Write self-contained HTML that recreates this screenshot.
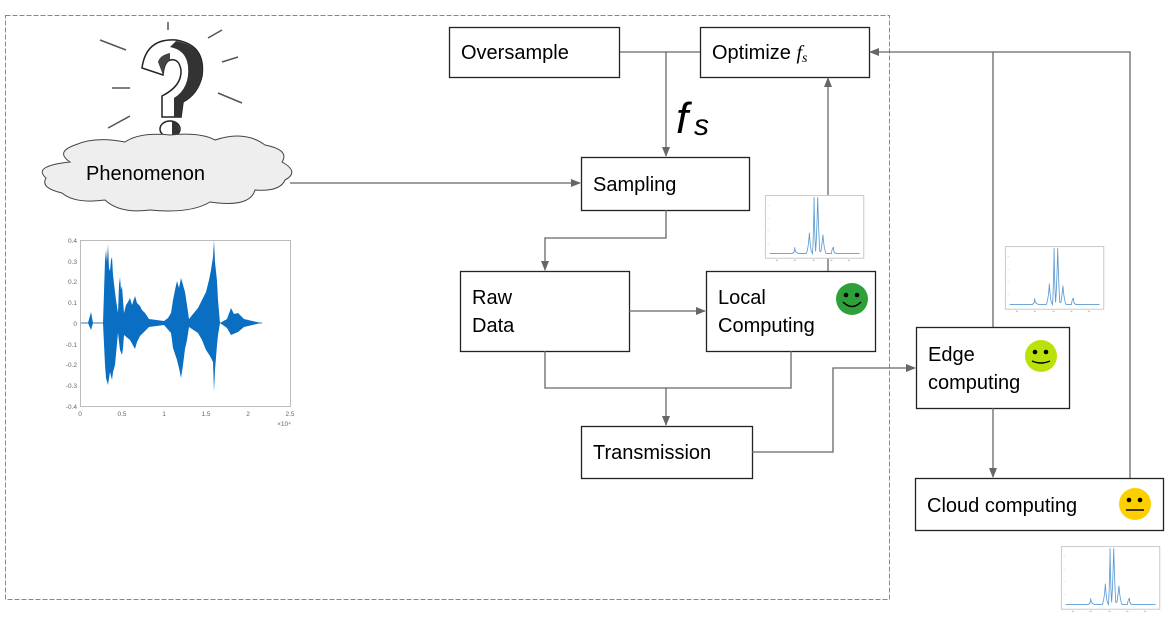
<!DOCTYPE html>
<html><head><meta charset="utf-8"><style>
html,body{margin:0;padding:0;background:#fff}
svg{display:block}
text{font-family:"Liberation Sans",sans-serif}
</style></head><body>
<svg width="1171" height="638" viewBox="0 0 1171 638" xmlns="http://www.w3.org/2000/svg">
<defs>
<marker id="ar" viewBox="0 0 10 10" refX="9" refY="5" markerWidth="10" markerHeight="10" markerUnits="userSpaceOnUse" orient="auto"><path d="M0,1 L10,5 L0,9 z" fill="#666"/></marker>
<symbol id="spec" viewBox="0 0 100 66">
<rect x="5" y="0.5" width="94" height="60" fill="#fff" stroke="#ccc" stroke-width="1"/>
<g stroke="#5a9bd4" stroke-width="0.8" fill="none">
<path d="M9,56 L30,56 Q33,56 33,50 Q33,56 38,56 L44,56 Q46,52 47,36 Q48,52 49,54 L50,56 Q51,40 51.5,2 Q52,40 53,54 Q54,40 55,2 Q56,40 57,54 L58,54 Q59,48 60,38 Q61,52 63,56 L68,56 Q69,50 70,50 Q70,56 73,56 L95,56"/>
</g>
<g fill="#aaa"><rect x="7" y="10" width="1" height="0.5"/><rect x="7" y="22" width="1" height="0.5"/><rect x="7" y="34" width="1" height="0.5"/><rect x="7" y="46" width="1" height="0.5"/><rect x="15" y="62" width="2" height="0.8"/><rect x="32" y="62" width="2" height="0.8"/><rect x="50" y="62" width="2" height="0.8"/><rect x="67" y="62" width="2" height="0.8"/><rect x="84" y="62" width="2" height="0.8"/></g>
</symbol>
</defs>

<rect x="5.5" y="15.5" width="884" height="584" fill="none" stroke="#888" stroke-width="1" stroke-dasharray="5,2"/>

<g stroke="#555" stroke-width="1.5" fill="none">
<line x1="100" y1="40" x2="126" y2="50"/><line x1="168" y1="22" x2="168" y2="30"/>
<line x1="208" y1="38" x2="222" y2="30"/><line x1="222" y1="62" x2="238" y2="57"/>
<line x1="112" y1="88" x2="130" y2="88"/><line x1="218" y1="93" x2="242" y2="103"/>
<line x1="108" y1="128" x2="130" y2="116"/>
</g>
<!-- question mark icon -->
<path d="M142,68 Q146,38 176,40 Q206,45 202,76 Q198,94 183,102 L181,117 L162,117 L162,96 Q182,86 181,70 Q179,58 170,60 Q164,62 163,75 Z" fill="#fff" stroke="#222" stroke-width="1.5"/>
<path d="M176,41 Q206,46 202,76 Q198,94 183,102 L181,117 L174,117 L174,98 Q190,88 188,66 Q186,50 170,47 Z" fill="#333"/>
<path d="M163,75 L158,62 Q160,55 170,53 L170,60 Q164,62 163,75 Z" fill="#444"/>
<ellipse cx="170" cy="129" rx="10" ry="8" fill="#fff" stroke="#222" stroke-width="1.5"/>
<path d="M172,121 Q182,124 178,135 L172,136 Z" fill="#333"/>

<path d="M70,162 Q55,152 75,145 Q95,136 125,142 Q140,132 170,135 Q200,132 215,140 Q245,130 265,145 Q290,150 282,162 Q300,172 285,180 Q280,192 255,190 Q250,208 210,202 Q190,214 150,210 Q120,214 105,200 Q75,204 62,193 Q40,188 46,178 Q32,166 70,162 Z" fill="#eeeeee" stroke="#444" stroke-width="1"/>
<text x="86" y="180" font-size="20" fill="#000">Phenomenon</text>

<rect x="80.5" y="240.5" width="210" height="166" fill="#fff" stroke="#bbb" stroke-width="1"/>
<g font-size="6.5" fill="#666" text-anchor="end">
<text x="77" y="243">0.4</text><text x="77" y="264">0.3</text><text x="77" y="284">0.2</text><text x="77" y="305">0.1</text><text x="77" y="326">0</text><text x="77" y="347">-0.1</text><text x="77" y="367">-0.2</text><text x="77" y="388">-0.3</text><text x="77" y="409">-0.4</text>
</g>
<g font-size="6.5" fill="#666" text-anchor="middle">
<text x="80" y="416">0</text><text x="122" y="416">0.5</text><text x="164" y="416">1</text><text x="206" y="416">1.5</text><text x="248" y="416">2</text><text x="290" y="416">2.5</text><text x="284" y="426">×10⁴</text>
</g>
<line x1="81" y1="323" x2="262" y2="323" stroke="#2f7cc4" stroke-width="1"/>
<polygon fill="#0a6fc2" points="88,323 91,312 93,323 103,323 105,261 106,250 107,262 108,244 109,268 110,271 111,260 112,257 113,275 115,292 116,300 118,313 119,285 120,277 121,290 122,286 123,300 124,313 126,305 128,302 130,298 132,305 135,296 137,303 140,306 142,310 145,313 149,319 164,321 168,318 171,313 173,300 175,290 177,281 179,288 181,278 183,285 185,292 187,305 189,319 193,314 198,308 202,300 206,292 209,280 211,270 213,257 214,240 215,262 217,281 218,300 220,323 227,319 231,308 234,314 238,313 241,316 244,319 261,323 244,327 238,332 231,335 227,328 220,323 218,335 217,345 215,370 214,392 213,362 210,356 206,350 202,340 198,333 189,327 187,340 185,349 183,365 181,378 179,368 177,360 173,348 171,333 164,325 149,327 145,331 140,336 137,342 135,349 130,340 124,335 123,348 122,355 120,350 118,333 115,365 113,372 112,380 110,372 108,385 106,378 105,365 103,323 93,323 91,330"/>

<g fill="#fff" stroke="#222" stroke-width="1.3">
<rect x="449.5" y="27.5" width="170" height="50"/>
<rect x="700.5" y="27.5" width="169" height="50"/>
<rect x="581.5" y="157.5" width="168" height="53"/>
<rect x="460.5" y="271.5" width="169" height="80"/>
<rect x="706.5" y="271.5" width="169" height="80"/>
<rect x="581.5" y="426.5" width="171" height="52"/>
<rect x="916.5" y="327.5" width="153" height="81"/>
<rect x="915.5" y="478.5" width="248" height="52"/>
</g>
<g font-size="20" fill="#000">
<text x="461" y="59">Oversample</text>
<text x="712" y="59">Optimize <tspan font-family="Liberation Serif,serif" font-style="italic">f</tspan><tspan font-family="Liberation Serif,serif" font-style="italic" font-size="14" dy="3">s</tspan></text>
<text x="593" y="191">Sampling</text>
<text x="472" y="304">Raw</text><text x="472" y="332">Data</text>
<text x="718" y="304">Local</text><text x="718" y="332">Computing</text>
<text x="593" y="459">Transmission</text>
<text x="928" y="361">Edge</text><text x="928" y="389">computing</text>
<text x="927" y="512">Cloud computing</text>
</g>
<text x="676" y="133" font-family="Liberation Serif,serif" font-style="italic" font-size="44" fill="#000">f</text>
<text x="694" y="135" font-family="Liberation Serif,serif" font-style="italic" font-size="30" fill="#000">s</text>

<g stroke="#666" stroke-width="1.3" fill="none">
<line x1="620" y1="52" x2="700" y2="52"/>
<line x1="666" y1="52" x2="666" y2="156" marker-end="url(#ar)"/>
<line x1="290" y1="183" x2="580" y2="183" marker-end="url(#ar)"/>
<polyline points="666,210 666,238 545,238 545,270" marker-end="url(#ar)"/>
<line x1="629" y1="311" x2="705" y2="311" marker-end="url(#ar)"/>
<polyline points="545,351 545,388 791,388 791,351"/>
<line x1="666" y1="388" x2="666" y2="425" marker-end="url(#ar)"/>
<polyline points="752,452 833,452 833,368 915,368" marker-end="url(#ar)"/>
<line x1="828" y1="271" x2="828" y2="78" marker-end="url(#ar)"/>
<line x1="993" y1="327" x2="993" y2="52"/>
<polyline points="1130,478 1130,52 870,52" marker-end="url(#ar)"/>
<line x1="993" y1="408" x2="993" y2="477" marker-end="url(#ar)"/>
</g>

<use href="#spec" x="760" y="195" width="105" height="69"/>
<use href="#spec" x="1000" y="246" width="105" height="69"/>
<use href="#spec" x="1056" y="546" width="105" height="69"/>

<g>
<circle cx="852" cy="299" r="16" fill="#2ea03a"/>
<circle cx="846" cy="295" r="2.3" fill="#000"/><circle cx="857" cy="295" r="2.3" fill="#000"/>
<path d="M843,302 Q852,311 861,302" stroke="#000" stroke-width="1.5" fill="none"/>
<circle cx="1041" cy="356" r="16" fill="#b9e20a"/>
<circle cx="1035" cy="352" r="2.3" fill="#000"/><circle cx="1046" cy="352" r="2.3" fill="#000"/>
<path d="M1032,361 Q1041,365 1050,361" stroke="#000" stroke-width="1.5" fill="none"/>
<circle cx="1135" cy="504" r="16" fill="#fcd000"/>
<circle cx="1129" cy="500" r="2.3" fill="#000"/><circle cx="1140" cy="500" r="2.3" fill="#000"/>
<line x1="1126" y1="510" x2="1144" y2="510" stroke="#000" stroke-width="1.5"/>
</g>
</svg>
</body></html>
